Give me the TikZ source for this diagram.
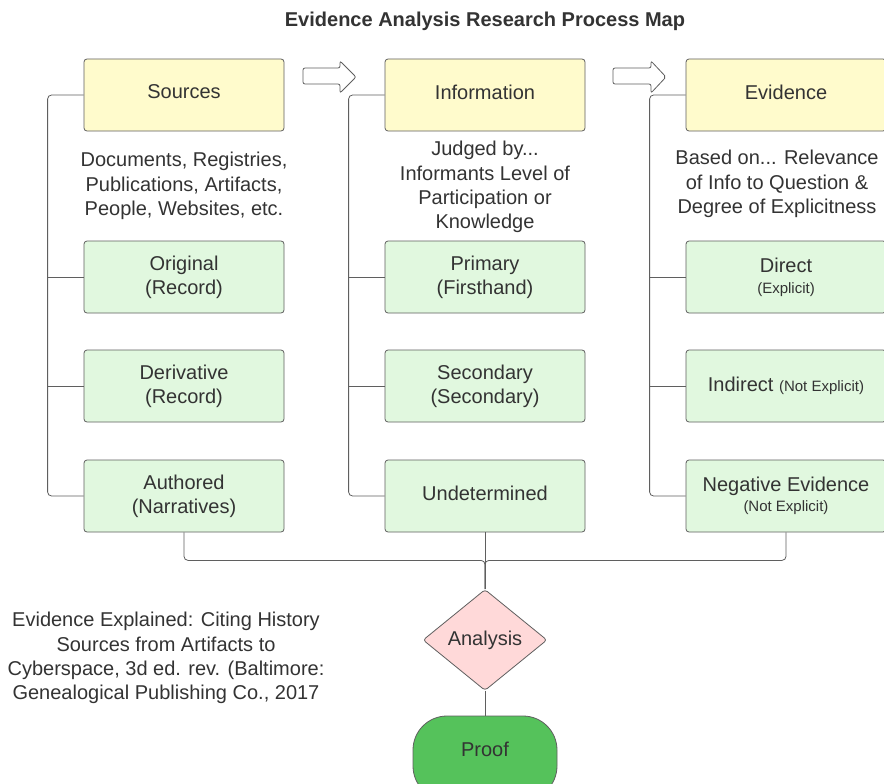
\documentclass[tikz,border=0pt]{standalone}
\usepackage{fontspec}
\setmainfont{Liberation Sans}
\usetikzlibrary{shapes.geometric}
\definecolor{txt}{HTML}{333333}
\definecolor{bord}{HTML}{5F5F5F}
\definecolor{yel}{HTML}{FFFBCC}
\definecolor{grn}{HTML}{E1F8DF}
\definecolor{pnk}{HTML}{FFD9D9}
\definecolor{prf}{HTML}{55C25B}
\tikzset{
  hdr/.style={draw=bord, fill=yel, rounded corners=3pt, minimum width=200pt, minimum height=72pt, line width=0.8pt},
  htxt/.style={text=txt, font=\fontsize{20}{22}\selectfont},
  gbox/.style={draw=bord, fill=grn, rounded corners=3pt, minimum width=200pt, minimum height=72pt, text=txt, align=center, font=\fontsize{20}{24}\selectfont, line width=0.8pt},
  desc/.style={text=txt, align=center, font=\fontsize{20}{24.3}\selectfont},
  conn/.style={draw=bord, line width=0.8pt, rounded corners=4pt},
  barrow/.style={draw=bord, fill=white, line width=0.8pt, rounded corners=2pt},
}
\begin{document}
\begin{tikzpicture}[x=1pt,y=-1pt]
\useasboundingbox (0,0) rectangle (884,784);
\fill[white] (0,0) rectangle (884,784);
\node[text=txt, font=\bfseries\fontsize{20}{22}\selectfont] (title) at (485,21) {Evidence Analysis Research Process Map};
% headers
\node[hdr] (S) at (184,95) {};
\node[hdr] (I) at (485,95) {};
\node[hdr] (E) at (786,95) {};
\node[htxt] (tS) at (184,92) {Sources};
\node[htxt] (tI) at (485,92) {Information};
\node[htxt] (tE) at (786,92) {Evidence};
% descriptions
\node[desc] (dS) at (184,186) {Documents, Registries,\\Publications, Artifacts,\\People, Websites, etc.};
\node[desc] (dI) at (485,187) {Judged by...\\Informants Level of\\Participation or\\Knowledge};
\node[desc] (dE) at (777,184) {Based on... Relevance\\of Info to Question \&\\Degree of Explicitness};
% green boxes
\node[gbox] (S1) at (184,277) {Original\\(Record)};
\node[gbox] (S2) at (184,386) {Derivative\\(Record)};
\node[gbox] (S3) at (184,496) {Authored\\(Narratives)};
\node[gbox] (I1) at (485,277) {Primary\\(Firsthand)};
\node[gbox] (I2) at (485,386) {Secondary\\(Secondary)};
\node[gbox] (I3) at (485,496) {};
\node[htxt] (tU) at (485,493) {Undetermined};
\node[gbox] (E1) at (786,277) {Direct\\[-3pt]{\fontsize{15}{16}\selectfont (Explicit)}};
\node[gbox] (E2) at (786,386) {Indirect {\fontsize{15}{16}\selectfont (Not Explicit)}};
\node[gbox] (E3) at (786,496) {Negative Evidence\\[-4pt]{\fontsize{15}{16}\selectfont (Not Explicit)}};
% brackets
\foreach \h/\a/\b/\c in {S/S1/S2/S3, I/I1/I2/I3, E/E1/E2/E3}{
  \draw[conn] (\h.west) -- ([xshift=-36pt]\h.west) |- (\c.west);
  \draw[conn] (\a.west) -- ([xshift=-36pt]\a.west);
  \draw[conn] (\b.west) -- ([xshift=-36pt]\b.west);
}
% block arrows
\draw[barrow] (303,68) -- (340,68) -- (340,61) -- (356,77) -- (340,93) -- (340,84) -- (303,84) -- cycle;
\draw[barrow] (613,68) -- (651,68) -- (651,61) -- (666,77) -- (651,93) -- (651,84) -- (613,84) -- cycle;
% analysis & proof
\node[diamond, draw=bord, fill=pnk, minimum width=124pt, minimum height=101pt, inner sep=0pt, rounded corners=3pt, text=txt, font=\fontsize{20}{22}\selectfont, line width=0.8pt] (An) at (485,640) {Analysis};
\draw[draw=bord, fill=prf, line width=0.8pt, rounded corners=34pt] (413,716) rectangle (557,800);
\node[text=txt, font=\fontsize{20}{22}\selectfont] (P) at (485,749) {Proof};
\coordinate (Ptop) at (485,716);
% merge connectors
\draw[conn] (S3.south) -- ++(0,28) -| (An.north);
\draw[conn] (E3.south) -- ++(0,28) -| (An.north);
\draw[conn] (I3.south) -- (An.north);
\draw[conn] (An.south) -- (Ptop);
% citation
\node[desc] (cit) at (166,658) {Evidence Explained: Citing History\\Sources from Artifacts to\\Cyberspace, 3d ed. rev. (Baltimore:\\Genealogical Publishing Co., 2017};
\end{tikzpicture}
\end{document}
